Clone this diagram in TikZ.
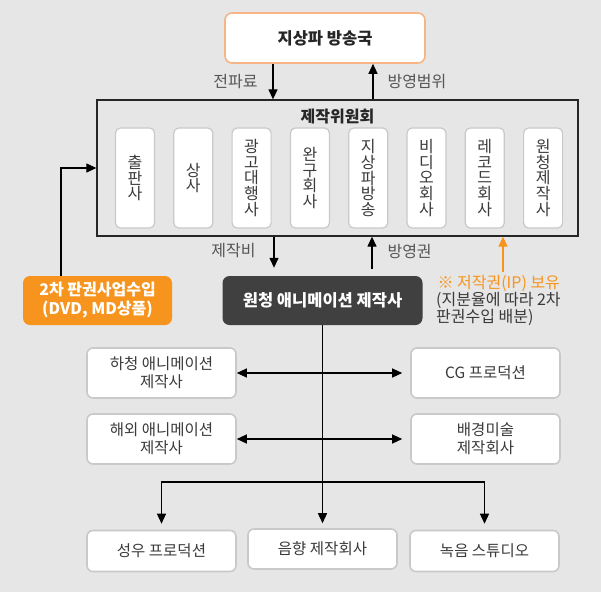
\documentclass[tikz,border=0pt]{standalone}
\usepackage{fontspec}
\setmainfont{Noto Sans CJK KR}
\usetikzlibrary{arrows.meta,calc,positioning}
\definecolor{canvas}{HTML}{E6E6E6}
\definecolor{ink}{HTML}{3A3A3A}
\definecolor{muted}{HTML}{555555}
\definecolor{rim}{HTML}{C9C9C9}
\definecolor{accent}{HTML}{F7941D}
\definecolor{accentrim}{HTML}{F7B484}
\definecolor{dark}{HTML}{404040}
\tikzset{
  flow/.style={line width=1.25pt,-{Triangle[length=10pt,width=9pt]}},
  twoway/.style={line width=1.25pt,{Triangle[length=10pt,width=9pt]}-{Triangle[length=10pt,width=9pt]}},
  party box/.style={draw=rim,line width=1.6pt,rounded corners=6pt,fill=white,
    minimum width=149pt,minimum height=50pt,inner sep=0pt,align=center,
    font=\fontsize{15.5}{18}\selectfont,text=ink},
  member box/.style={draw=rim,line width=1.2pt,rounded corners=5pt,fill=white,
    minimum width=39pt,minimum height=100pt,inner sep=0pt,align=center,
    font=\fontsize{16}{15.8}\selectfont,text=ink},
  flow label/.style={font=\fontsize{16}{18}\selectfont,text=muted}
}

\begin{document}
\begin{tikzpicture}[x=1pt,y=-1pt]
  \path[use as bounding box] (0,0) rectangle (601,592);
  \fill[canvas] (0,0) rectangle (601,592);

  % Broadcaster on top.
  \node[draw=accentrim,line width=1.6pt,rounded corners=7pt,fill=white,
        minimum width=200pt,minimum height=50pt,inner sep=0pt,
        font=\bfseries\fontsize{16.5}{18}\selectfont,text=black!85]
    (tv) at (325,38) {지상파 방송국};

  % Production committee and its members.
  \node[draw=black!85,line width=1.3pt,minimum width=481pt,minimum height=136pt,inner sep=0pt]
    (committee) at (337.5,168) {};
  \node[font=\bfseries\fontsize{16}{18}\selectfont,text=black!85]
    (committeetitle) at (337.5,117) {제작위원회};
  \node[member box] (publisher) at (135,178) {출\\판\\사};
  \node[member box] (trader) at (193.3,178) {상\\사};
  \node[member box] (agency) at (251.6,178) {광\\고\\대\\행\\사};
  \node[member box] (toys) at (309.9,178) {완\\구\\회\\사};
  \node[member box] (network) at (368.2,178) {지\\상\\파\\방\\송};
  \node[member box] (video) at (426.5,178) {비\\디\\오\\회\\사};
  \node[member box] (record) at (484.8,178) {레\\코\\드\\회\\사};
  \node[member box] (origin) at (543.1,178) {원\\청\\제\\작\\사};

  % Fees and broadcast range.
  \draw[flow] ([xshift=-52pt]tv.south) -- ([xshift=-52pt]tv.south |- committee.north);
  \draw[flow] ([xshift=48pt]tv.south |- committee.north) -- ([xshift=48pt]tv.south);
  \node[flow label,anchor=east] (feelabel) at (261,82) {전파료};
  \node[flow label,anchor=west] (rangelabel) at (384,82) {방영범위};

  % Secondary rights income.
  \node[fill=accent,rounded corners=7pt,minimum width=149pt,minimum height=49pt,
        inner sep=0pt,align=center,font=\bfseries\fontsize{16}{19}\selectfont,text=white]
    (rights) at (97.5,300.5) {2차 판권사업수입\\(DVD, MD상품)};
  \draw[flow] ([xshift=-36.5pt]rights.north) |- (committee.west);

  % Prime animation studio.
  \node[fill=dark,rounded corners=7pt,minimum width=200pt,minimum height=49pt,inner sep=0pt,
        font=\bfseries\fontsize{16.5}{18}\selectfont,text=white]
    (studio) at (322.5,300.5) {원청 애니메이션 제작사};
  \draw[flow,shorten >=8pt] ([xshift=-48.5pt]studio.north |- committee.south) -- ([xshift=-48.5pt]studio.north);
  \draw[flow,shorten <=7pt] ([xshift=49.5pt]studio.north) -- ([xshift=49.5pt]studio.north |- committee.south);
  \node[flow label,anchor=east] (costlabel) at (259,251) {제작비};
  \node[flow label,anchor=west] (airlabel) at (384,251) {방영권};

  % Copyright note.
  \coordinate (ipfoot) at (503,272);
  \draw[flow,accent] (ipfoot) -- (ipfoot |- committee.south);
  \node[anchor=west,font=\fontsize{16}{18}\selectfont,text=accent]
    (ipnote) at (434,283) {※ 저작권(IP) 보유};
  \node[anchor=north west,align=left,inner sep=0pt,font=\fontsize{16}{17.5}\selectfont,text=ink]
    (ipshare) at (436,292) {(지분율에 따라 2차\\판권수입 배분)};

  % Partner companies.
  \node[party box] (subcon) at (161.5,373) {하청 애니메이션\\제작사};
  \node[party box] (cg) at (485.5,373) {CG 프로덕션};
  \node[party box] (overseas) at (161.5,439) {해외 애니메이션\\제작사};
  \node[party box] (backdrop) at (485.5,439) {배경미술\\제작회사};
  \draw[twoway,shorten >=8pt] (subcon.east) -- (cg.west);
  \draw[twoway,shorten >=8pt] (overseas.east) -- (backdrop.west);

  % Sound side.
  \node[party box,minimum height=41pt] (voice) at (161.5,551) {성우 프로덕션};
  \node[party box,minimum height=40pt] (sound) at (322.5,549) {음향 제작회사};
  \node[party box,minimum height=41pt] (recording) at (484.5,551) {녹음 스튜디오};
  \coordinate (split) at (studio.south |- 0,482);
  \draw[flow,line width=1.4pt,shorten >=5pt] (studio.south) -- (sound.north);
  \draw[flow,shorten >=6pt] (split) -| (voice.north);
  \draw[flow,shorten >=6pt] (split) -| (recording.north);
\end{tikzpicture}
\end{document}
